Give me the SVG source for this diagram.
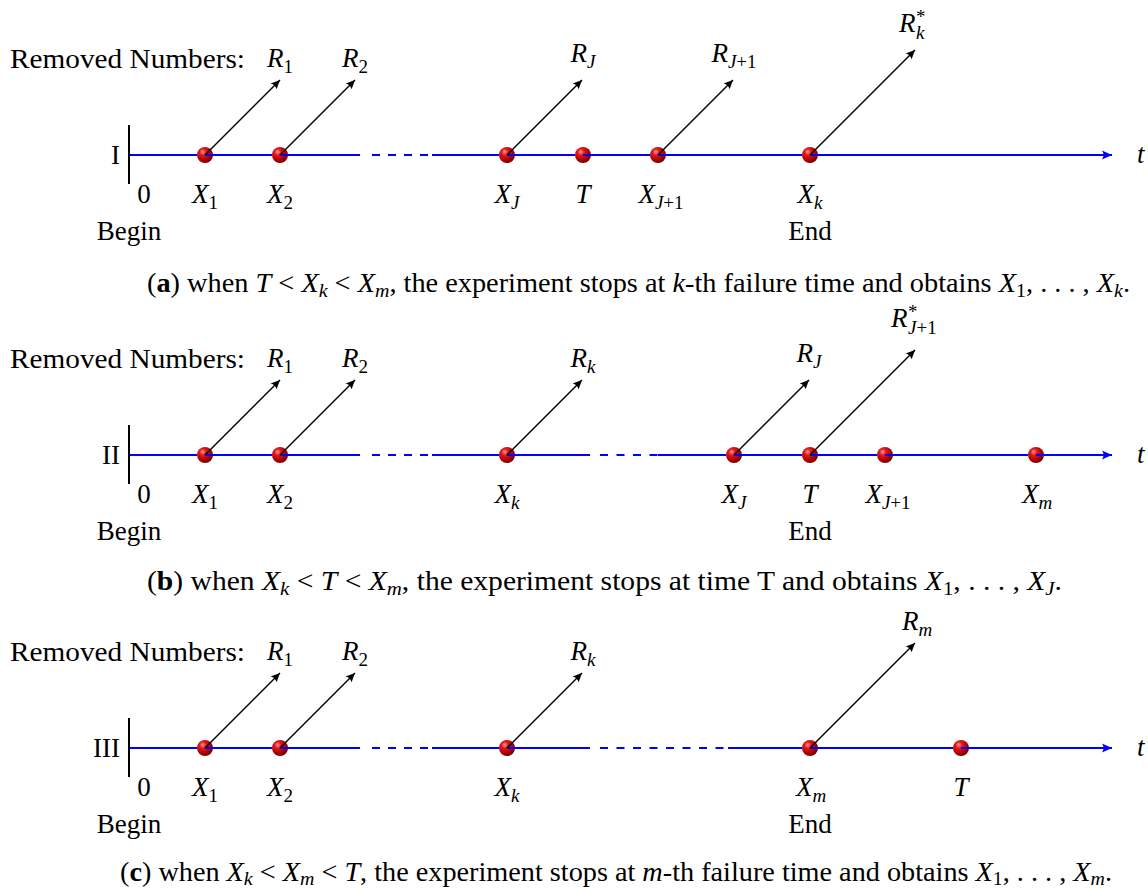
<svg xmlns="http://www.w3.org/2000/svg" width="1148" height="890" viewBox="0 0 1148 890">
<defs>
<style>
.tx{font-family:"Liberation Serif","Times New Roman",serif;font-size:27px;fill:#000}
.it{font-style:italic}
.sb{font-size:19px}
.ax{stroke:#0000ff;stroke-width:2;fill:none}
.dash{stroke-dasharray:8 8.5}
.bar{stroke:#000;stroke-width:2}
.rm{stroke:#000;stroke-width:1.5;fill:none;marker-end:url(#hk)}
.axe{stroke:#0000ff;stroke-width:2;fill:none;marker-end:url(#hb)}
.ball{fill:url(#sph)}
</style>
<radialGradient id="sph" cx="0.38" cy="0.35" r="0.68" fx="0.35" fy="0.3">
<stop offset="0" stop-color="#ff9c9c"/>
<stop offset="0.3" stop-color="#e41818"/>
<stop offset="0.75" stop-color="#a80000"/>
<stop offset="1" stop-color="#680000"/>
</radialGradient>
<marker id="hk" markerUnits="userSpaceOnUse" viewBox="-10 -5 11 10" refX="0" refY="0" markerWidth="11" markerHeight="10" orient="auto" overflow="visible">
<path d="M0,0 L-9,-4.2 Q-6.5,0 -9,4.2 Z" fill="#000"/>
</marker>
<marker id="hb" markerUnits="userSpaceOnUse" viewBox="-10 -5 11 10" refX="0" refY="0" markerWidth="11" markerHeight="10" orient="auto" overflow="visible">
<path d="M0,0 L-10,-4.5 Q-7,0 -10,4.5 Z" fill="#0000ff"/>
</marker>
</defs>
<rect width="1148" height="890" fill="#fff"/>

<!-- Row I -->
<g id="row1-frame">
<text class="tx" x="10" y="68" textLength="235" lengthAdjust="spacingAndGlyphs">Removed Numbers:</text>
<text class="tx" x="120" y="164" text-anchor="end">I</text>
<line class="bar" x1="129" y1="125" x2="129" y2="184"/>
<text class="tx" x="144" y="203" text-anchor="middle">0</text>
<text class="tx" x="129" y="240" text-anchor="middle">Begin</text>
<text class="tx it" x="1137" y="163">t</text>
</g>
<g id="r1-x1"><circle class="ball" cx="205" cy="155" r="8"/><text class="tx" x="205" y="203" text-anchor="middle"><tspan class="it">X</tspan><tspan class="sb" dy="6">1</tspan></text></g>
<g id="r1-x2"><circle class="ball" cx="280" cy="155" r="8"/><text class="tx" x="280" y="203" text-anchor="middle"><tspan class="it">X</tspan><tspan class="sb" dy="6">2</tspan></text></g>
<g id="r1-xj"><circle class="ball" cx="507" cy="155" r="8"/><text class="tx" x="507" y="203" text-anchor="middle"><tspan class="it">X</tspan><tspan class="sb it" dy="6">J</tspan></text></g>
<g id="r1-t"><circle class="ball" cx="583" cy="155" r="8"/><text class="tx it" x="583" y="203" text-anchor="middle">T</text></g>
<g id="r1-xj1"><circle class="ball" cx="658" cy="155" r="8"/><text class="tx" x="661" y="203" text-anchor="middle"><tspan class="it">X</tspan><tspan class="sb" dy="6"><tspan class="it">J</tspan>+1</tspan></text></g>
<g id="r1-xk"><circle class="ball" cx="810" cy="155" r="8"/><text class="tx" x="810" y="203" text-anchor="middle"><tspan class="it">X</tspan><tspan class="sb it" dy="6">k</tspan></text><text class="tx" x="810" y="240" text-anchor="middle">End</text></g>
<g id="r1-removed">
<text class="tx" x="280" y="67" text-anchor="middle"><tspan class="it">R</tspan><tspan class="sb" dy="6">1</tspan></text>
<text class="tx" x="355" y="67" text-anchor="middle"><tspan class="it">R</tspan><tspan class="sb" dy="6">2</tspan></text>
<text class="tx" x="583" y="62" text-anchor="middle"><tspan class="it">R</tspan><tspan class="sb it" dy="6">J</tspan></text>
<text class="tx" x="734" y="62" text-anchor="middle"><tspan class="it">R</tspan><tspan class="sb" dy="6"><tspan class="it">J</tspan>+1</tspan></text>
<text class="tx"><tspan class="it" x="899" y="32">R</tspan><tspan class="sb" x="916" y="23">*</tspan><tspan class="sb it" x="916" y="39">k</tspan></text>
</g>
<text class="tx" x="147" y="292" textLength="983" lengthAdjust="spacingAndGlyphs">(<tspan font-weight="bold">a</tspan>) when <tspan class="it">T</tspan> &lt; <tspan class="it">X</tspan><tspan class="sb it" dy="5">k</tspan><tspan dy="-5"> &lt; </tspan><tspan class="it">X</tspan><tspan class="sb it" dy="5">m</tspan><tspan dy="-5">, the experiment stops at </tspan><tspan class="it">k</tspan>-th failure time and obtains <tspan class="it">X</tspan><tspan class="sb" dy="5">1</tspan><tspan dy="-5">, . . . , </tspan><tspan class="it">X</tspan><tspan class="sb it" dy="5">k</tspan><tspan dy="-5">.</tspan></text>

<!-- Row II -->
<g id="row2-frame">
<text class="tx" x="10" y="368" textLength="235" lengthAdjust="spacingAndGlyphs">Removed Numbers:</text>
<text class="tx" x="120" y="464" text-anchor="end">II</text>
<line class="bar" x1="129" y1="425" x2="129" y2="484"/>
<text class="tx" x="144" y="503" text-anchor="middle">0</text>
<text class="tx" x="129" y="540" text-anchor="middle">Begin</text>
<text class="tx it" x="1137" y="463">t</text>
</g>
<g id="r2-x1"><circle class="ball" cx="205" cy="455" r="8"/><text class="tx" x="205" y="503" text-anchor="middle"><tspan class="it">X</tspan><tspan class="sb" dy="6">1</tspan></text></g>
<g id="r2-x2"><circle class="ball" cx="280" cy="455" r="8"/><text class="tx" x="280" y="503" text-anchor="middle"><tspan class="it">X</tspan><tspan class="sb" dy="6">2</tspan></text></g>
<g id="r2-xk"><circle class="ball" cx="507" cy="455" r="8"/><text class="tx" x="507" y="503" text-anchor="middle"><tspan class="it">X</tspan><tspan class="sb it" dy="6">k</tspan></text></g>
<g id="r2-xj"><circle class="ball" cx="734" cy="455" r="8"/><text class="tx" x="734" y="503" text-anchor="middle"><tspan class="it">X</tspan><tspan class="sb it" dy="6">J</tspan></text></g>
<g id="r2-t"><circle class="ball" cx="810" cy="455" r="8"/><text class="tx it" x="810" y="503" text-anchor="middle">T</text><text class="tx" x="810" y="540" text-anchor="middle">End</text></g>
<g id="r2-xj1"><circle class="ball" cx="885" cy="455" r="8"/><text class="tx" x="888" y="503" text-anchor="middle"><tspan class="it">X</tspan><tspan class="sb" dy="6"><tspan class="it">J</tspan>+1</tspan></text></g>
<g id="r2-xm"><circle class="ball" cx="1036" cy="455" r="8"/><text class="tx" x="1037" y="503" text-anchor="middle"><tspan class="it">X</tspan><tspan class="sb it" dy="6">m</tspan></text></g>
<g id="r2-removed">
<text class="tx" x="280" y="367" text-anchor="middle"><tspan class="it">R</tspan><tspan class="sb" dy="6">1</tspan></text>
<text class="tx" x="355" y="367" text-anchor="middle"><tspan class="it">R</tspan><tspan class="sb" dy="6">2</tspan></text>
<text class="tx" x="583" y="367" text-anchor="middle"><tspan class="it">R</tspan><tspan class="sb it" dy="6">k</tspan></text>
<text class="tx" x="809" y="362" text-anchor="middle"><tspan class="it">R</tspan><tspan class="sb it" dy="6">J</tspan></text>
<text class="tx"><tspan class="it" x="891" y="327">R</tspan><tspan class="sb" x="908" y="318">*</tspan><tspan class="sb" x="908" y="334"><tspan class="it">J</tspan>+1</tspan></text>
</g>
<text class="tx" x="147" y="590" textLength="915" lengthAdjust="spacingAndGlyphs">(<tspan font-weight="bold">b</tspan>) when <tspan class="it">X</tspan><tspan class="sb it" dy="5">k</tspan><tspan dy="-5"> &lt; </tspan><tspan class="it">T</tspan> &lt; <tspan class="it">X</tspan><tspan class="sb it" dy="5">m</tspan><tspan dy="-5">, the experiment stops at time T and obtains </tspan><tspan class="it">X</tspan><tspan class="sb" dy="5">1</tspan><tspan dy="-5">, . . . , </tspan><tspan class="it">X</tspan><tspan class="sb it" dy="5">J</tspan><tspan dy="-5">.</tspan></text>

<!-- Row III -->
<g id="row3-frame">
<text class="tx" x="10" y="661" textLength="235" lengthAdjust="spacingAndGlyphs">Removed Numbers:</text>
<text class="tx" x="120" y="757" text-anchor="end">III</text>
<line class="bar" x1="129" y1="718" x2="129" y2="777"/>
<text class="tx" x="144" y="796" text-anchor="middle">0</text>
<text class="tx" x="129" y="833" text-anchor="middle">Begin</text>
<text class="tx it" x="1137" y="756">t</text>
</g>
<g id="r3-x1"><circle class="ball" cx="205" cy="748" r="8"/><text class="tx" x="205" y="796" text-anchor="middle"><tspan class="it">X</tspan><tspan class="sb" dy="6">1</tspan></text></g>
<g id="r3-x2"><circle class="ball" cx="280" cy="748" r="8"/><text class="tx" x="280" y="796" text-anchor="middle"><tspan class="it">X</tspan><tspan class="sb" dy="6">2</tspan></text></g>
<g id="r3-xk"><circle class="ball" cx="507" cy="748" r="8"/><text class="tx" x="507" y="796" text-anchor="middle"><tspan class="it">X</tspan><tspan class="sb it" dy="6">k</tspan></text></g>
<g id="r3-xm"><circle class="ball" cx="810" cy="748" r="8"/><text class="tx" x="811" y="796" text-anchor="middle"><tspan class="it">X</tspan><tspan class="sb it" dy="6">m</tspan></text><text class="tx" x="810" y="833" text-anchor="middle">End</text></g>
<g id="r3-t"><circle class="ball" cx="961" cy="748" r="8"/><text class="tx it" x="961" y="796" text-anchor="middle">T</text></g>
<g id="r3-removed">
<text class="tx" x="280" y="660" text-anchor="middle"><tspan class="it">R</tspan><tspan class="sb" dy="6">1</tspan></text>
<text class="tx" x="355" y="660" text-anchor="middle"><tspan class="it">R</tspan><tspan class="sb" dy="6">2</tspan></text>
<text class="tx" x="583" y="660" text-anchor="middle"><tspan class="it">R</tspan><tspan class="sb it" dy="6">k</tspan></text>
<text class="tx" x="917" y="630" text-anchor="middle"><tspan class="it">R</tspan><tspan class="sb it" dy="6">m</tspan></text>
</g>
<text class="tx" x="120" y="881" textLength="992" lengthAdjust="spacingAndGlyphs">(<tspan font-weight="bold">c</tspan>) when <tspan class="it">X</tspan><tspan class="sb it" dy="4">k</tspan><tspan dy="-4"> &lt; </tspan><tspan class="it">X</tspan><tspan class="sb it" dy="4">m</tspan><tspan dy="-4"> &lt; </tspan><tspan class="it">T</tspan>, the experiment stops at <tspan class="it">m</tspan>-th failure time and obtains <tspan class="it">X</tspan><tspan class="sb" dy="4">1</tspan><tspan dy="-4">, . . . , </tspan><tspan class="it">X</tspan><tspan class="sb it" dy="4">m</tspan><tspan dy="-4">.</tspan></text>

<!-- Connectors -->
<g id="connectors">
<path class="ax" d="M130 155H197M205 155H272M280 155H360M432 155H499M507 155H575M583 155H650M658 155H802"/>
<path class="ax" style="stroke-dasharray:8 8" d="M372 155H428"/>
<path class="axe" d="M810 155H1112"/>
<path class="rm" d="M205 155L280 80"/>
<path class="rm" d="M280 155L355 80"/>
<path class="rm" d="M507 155L582 80"/>
<path class="rm" d="M658 155L733 80"/>
<path class="rm" d="M810 155L915 50"/>

<path class="ax" d="M130 455H197M205 455H272M280 455H360M432 455H499M507 455H590M658 455H726M734 455H802M810 455H877M885 455H1028"/>
<path class="ax" style="stroke-dasharray:8 8" d="M372 455H428"/>
<path class="ax dash" d="M600 455H658"/>
<path class="axe" d="M1036 455H1112"/>
<path class="rm" d="M205 455L280 380"/>
<path class="rm" d="M280 455L355 380"/>
<path class="rm" d="M507 455L582 380"/>
<path class="rm" d="M734 455L809 380"/>
<path class="rm" d="M810 455L915 350"/>

<path class="ax" d="M130 748H197M205 748H272M280 748H360M432 748H499M507 748H590M728 748H802M810 748H953"/>
<path class="ax" style="stroke-dasharray:8 8" d="M372 748H428"/>
<path class="ax dash" d="M600 748H728"/>
<path class="axe" d="M961 748H1112"/>
<path class="rm" d="M205 748L280 673"/>
<path class="rm" d="M280 748L355 673"/>
<path class="rm" d="M507 748L582 673"/>
<path class="rm" d="M810 748L915 643"/>
</g>
</svg>
